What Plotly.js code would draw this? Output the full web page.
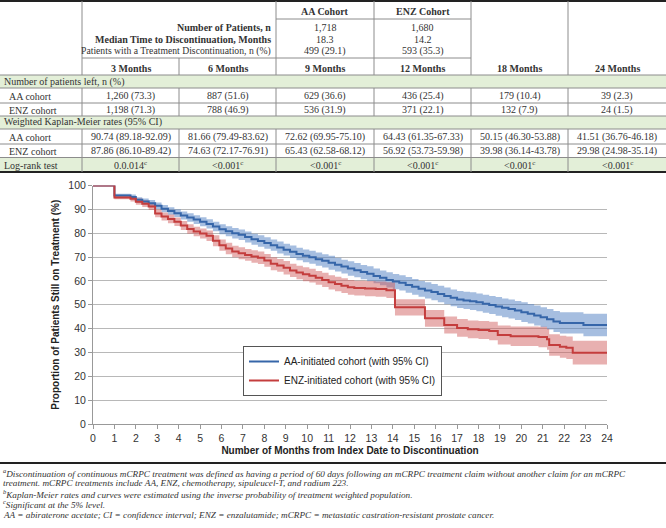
<!DOCTYPE html>
<html>
<head>
<meta charset="utf-8">
<script src="https://cdn.plot.ly/plotly-3.0.1.min.js"></script>
<style>html,body{margin:0;padding:0;background:#fff;}#chart{width:666px;height:528px;}</style>
</head>
<body>
<div id="chart"></div>
<script>
// ---------------- DATA ----------------
const monthHeaders = ['3 Months','6 Months','9 Months','12 Months','18 Months','24 Months'];
const cohortHeaders = ['AA Cohort','ENZ Cohort'];
const summaryLabels = ['Number of Patients, n','Median Time to Discontinuation, Months','Patients with a Treatment Discontinuation, n (%)'];
const aaSummary = ['1,718','18.3','499 (29.1)'];
const enzSummary = ['1,680','14.2','593 (35.3)'];
const rowLabels = ['AA cohort','ENZ cohort'];
const sectionLabels = ['Number of patients left, n (%)','Weighted Kaplan-Meier rates (95% CI)','Log-rank test'];
const aaLeft = ['1,260 (73.3)','887 (51.6)','629 (36.6)','436 (25.4)','179 (10.4)','39 (2.3)'];
const enzLeft = ['1,198 (71.3)','788 (46.9)','536 (31.9)','371 (22.1)','132 (7.9)','24 (1.5)'];
const aaKM = ['90.74 (89.18-92.09)','81.66 (79.49-83.62)','72.62 (69.95-75.10)','64.43 (61.35-67.33)','50.15 (46.30-53.88)','41.51 (36.76-46.18)'];
const enzKM = ['87.86 (86.10-89.42)','74.63 (72.17-76.91)','65.43 (62.58-68.12)','56.92 (53.73-59.98)','39.98 (36.14-43.78)','29.98 (24.98-35.14)'];
const logRank = ['0.0.014','&lt;0.001','&lt;0.001','&lt;0.001','&lt;0.001','&lt;0.001'];

const aaMonths = [0,1.0,1.75,2.0,2.3,2.6,2.9,3.2,3.5,3.8,4.1,4.4,4.7,5.0,5.3,5.6,5.9,6.2,6.5,6.8,7.1,7.4,7.7,8.0,8.3,8.6,8.9,9.2,9.5,9.8,10.1,10.4,10.7,11.0,11.3,11.6,11.9,12.2,12.5,12.8,13.1,13.4,13.7,14.0,14.3,14.6,14.9,15.2,15.5,15.8,16.1,16.4,16.7,17.0,17.3,17.6,17.9,18.2,18.5,18.8,19.1,19.4,19.7,20.0,20.3,20.6,20.9,21.2,21.5,21.8,22.9,24];
const aaValues = [100,95.8,95.2,94.0,93.3,92.6,91.5,90.3,89.3,88.4,87.4,86.6,85.7,84.8,83.9,82.8,81.7,80.8,80.0,79.3,78.4,77.5,76.7,75.9,75.0,74.0,73.1,72.2,71.3,70.5,69.9,69.1,68.4,67.6,66.8,66.0,65.2,64.5,63.7,63.0,62.1,61.3,60.4,59.7,59.2,58.3,57.5,56.7,56.0,55.3,54.5,53.7,52.9,52.2,51.8,51.5,51.0,50.4,49.9,49.3,48.7,48.2,47.6,46.9,46.2,45.5,44.8,43.9,43.0,42.4,41.5,41.5];
const aaLower = [100,95.1,94.2,92.9,92.1,91.3,90.1,88.8,87.7,86.8,85.7,84.8,83.9,82.9,82.0,80.8,79.6,78.7,77.8,77.1,76.1,75.2,74.3,73.5,72.6,71.5,70.6,69.6,68.7,67.8,67.2,66.3,65.6,64.7,63.9,63.1,62.2,61.5,60.7,59.9,59.0,58.2,57.2,56.5,56.0,55.0,54.2,53.4,52.6,51.9,51.0,50.2,49.4,48.6,48.2,47.8,47.3,46.6,46.1,45.4,44.8,44.2,43.6,42.8,42.1,41.3,40.6,39.6,38.6,37.9,36.8,36.8];
const aaUpper = [100,96.5,96.2,95.1,94.5,93.9,92.9,91.8,90.9,90.0,89.1,88.4,87.5,86.7,85.8,84.8,83.8,82.9,82.2,81.5,80.7,79.8,79.1,78.3,77.4,76.5,75.6,74.8,73.9,73.2,72.6,71.9,71.2,70.5,69.7,68.9,68.2,67.5,66.7,66.1,65.2,64.4,63.6,62.9,62.4,61.6,60.8,60.0,59.4,58.7,58.0,57.2,56.4,55.8,55.4,55.2,54.7,54.2,53.7,53.2,52.6,52.2,51.6,51.0,50.3,49.7,49.0,48.2,47.4,46.9,46.2,46.2];

const enzMonths = [0,1.0,1.75,2.0,2.3,2.6,2.9,3.2,3.5,3.8,4.1,4.4,4.7,5.0,5.3,5.6,5.9,6.2,6.5,6.8,7.1,7.4,7.7,8.0,8.3,8.6,8.9,9.2,9.5,9.8,10.1,10.4,10.7,11.0,11.3,11.6,11.9,12.2,12.7,13.2,13.7,14.1,15.5,16.4,17.0,17.5,18.0,18.5,18.9,19.5,20.8,21.2,21.3,21.8,22.1,22.4,24];
const enzValues = [100,95.0,94.4,93.2,92.4,91.2,88.3,87.0,86.0,84.8,83.2,81.8,80.7,79.9,78.9,76.8,75.0,73.6,72.3,71.6,70.9,70.2,69.7,68.6,67.2,66.5,65.5,64.4,63.5,62.8,62.2,61.3,60.4,59.4,58.7,58.0,57.3,57.0,56.8,56.6,56.1,48.9,44.3,41.5,40.3,39.7,39.4,39.0,37.3,36.8,36.5,35.5,33.1,32.4,32.0,29.9,29.9];
const enzLower = [100,94.2,93.3,91.9,91.0,89.7,86.7,85.3,84.2,83.0,81.3,79.8,78.7,77.8,76.7,74.5,72.6,71.2,69.9,69.1,68.4,67.6,67.1,65.9,64.5,63.8,62.7,61.6,60.7,59.9,59.3,58.4,57.4,56.4,55.7,54.9,54.2,53.9,53.6,53.4,52.8,45.5,40.8,37.9,36.6,36.0,35.6,35.1,33.3,32.7,32.2,31.1,28.6,27.8,27.3,24.9,24.9];
const enzUpper = [100,95.8,95.5,94.5,93.8,92.7,89.9,88.7,87.8,86.6,85.1,83.8,82.7,82.0,81.1,79.1,77.4,76.0,74.7,74.1,73.4,72.8,72.3,71.3,69.9,69.2,68.3,67.2,66.3,65.7,65.1,64.2,63.4,62.4,61.7,61.1,60.4,60.1,60.0,59.8,59.4,52.3,47.8,45.1,44.0,43.4,43.2,42.9,41.3,40.9,40.8,39.9,37.6,37.0,36.7,34.9,34.9];

const footnotes = [
  '<sup>a</sup>Discontinuation of continuous mCRPC treatment was defined as having a period of 60 days following an mCRPC treatment claim without another claim for an mCRPC',
  'treatment. mCRPC treatments include AA, ENZ, chemotherapy, sipuleucel-T, and radium 223.',
  '<sup>b</sup>Kaplan-Meier rates and curves were estimated using the inverse probability of treatment weighted population.',
  '<sup>c</sup>Significant at the 5% level.',
  'AA = abiraterone acetate; CI = confidence interval; ENZ = enzalutamide; mCRPC = metastatic castration-resistant prostate cancer.'
];

// ---------------- STYLE / LAYOUT HELPERS ----------------
const W = 666, H = 528;
const px = x => x / W;
const py = y => 1 - y / H;
const SERIF = 'Liberation Serif, Times New Roman, serif';
const SANS = 'Liberation Sans, Arial, sans-serif';
const TXT = '#333333';
const GRID = '#8c8c8c';
const GREEN = '#e3efd8';
const BLUE = '#3666a9', RED = '#c43d3d';
const BLUE_BAND = 'rgba(84,130,196,0.52)', RED_BAND = 'rgba(207,90,90,0.48)';

const colX = [0, 82, 179, 276, 374, 471, 568, 666];
const colC = i => (colX[i + 1] + colX[i + 2]) / 2;

const shapes = [];
const annotations = [];
function rect(x0, y0, x1, y1, color) {
  shapes.push({type:'rect', xref:'paper', yref:'paper', x0:px(x0), x1:px(x1), y0:py(y1), y1:py(y0), fillcolor:color, line:{width:0}, layer:'below'});
}
function hline(y, x0, x1, w, c) {
  shapes.push({type:'line', xref:'paper', yref:'paper', x0:px(x0), x1:px(x1), y0:py(y), y1:py(y), line:{color:c || GRID, width:w || 1}});
}
function vline(x, y0, y1, w, c) {
  shapes.push({type:'line', xref:'paper', yref:'paper', x0:px(x), x1:px(x), y0:py(y0), y1:py(y1), line:{color:c || GRID, width:w || 1}});
}
function txt(x, y, text, o) {
  o = o || {};
  annotations.push({xref:'paper', yref:'paper', x:px(x), y:py(y), text:text, showarrow:false,
    xanchor:o.anchor || 'center', yanchor:'middle', align:o.align || 'center',
    font:{family:o.family || SERIF, size:o.size || 10, color:o.color || TXT, weight:o.weight || 'normal'}});
}

// ---- table ----
rect(0, 75, W, 88, GREEN);
rect(0, 116, W, 129, GREEN);
rect(0, 157.5, W, 172, GREEN);

hline(1, 0, W, 2.2, '#222');
hline(19, 276, 471);
hline(58, 82, 471);
[75, 88, 103, 116, 129, 144, 157.5].forEach(y => hline(y, 0, W));
hline(172, 0, W, 2.2, '#222');
vline(82, 1, 75); vline(179, 58, 75);
[276, 374, 471, 568].forEach(x => vline(x, 1, 75));
[[88,116],[129,172]].forEach(r => { for (let i = 1; i < 7; i++) vline(colX[i], r[0], r[1]); });

// header texts
txt(colC(2), 11.5, cohortHeaders[0], {weight:'bold'});
txt(colC(3), 11.5, cohortHeaders[1], {weight:'bold'});
const sumY = [28, 39.5, 51];
summaryLabels.forEach((s, i) => txt(273, sumY[i], s, {anchor:'right', weight: i < 2 ? 'bold' : 'normal', size: i < 2 ? 10 : 9.7}));
aaSummary.forEach((s, i) => txt(colC(2), sumY[i], s));
enzSummary.forEach((s, i) => txt(colC(3), sumY[i], s));
monthHeaders.forEach((m, i) => txt(colC(i), 68, m, {weight:'bold'}));

// body texts
txt(2, 82, sectionLabels[0], {anchor:'left'});
txt(2, 122.5, sectionLabels[1], {anchor:'left'});
txt(2, 165, sectionLabels[2], {anchor:'left'});
txt(7, 96, rowLabels[0], {anchor:'left'});
txt(7, 110, rowLabels[1], {anchor:'left'});
txt(7, 137, rowLabels[0], {anchor:'left'});
txt(7, 151, rowLabels[1], {anchor:'left'});
for (let i = 0; i < 6; i++) {
  txt(colC(i), 96, aaLeft[i]);
  txt(colC(i), 110, enzLeft[i]);
  txt(colC(i), 137, aaKM[i]);
  txt(colC(i), 151, enzKM[i]);
  txt(colC(i), 165, logRank[i] + '<sup>c</sup>');
}

// footnotes
hline(463, 0, W, 2, '#222');
const fnY = [472.5, 483, 493.5, 504, 514.5];
footnotes.forEach((f, i) => txt(1, fnY[i], '<i>' + f + '</i>', {anchor:'left', align:'left', size:9.2}));

// ---------------- TRACES ----------------
function band(x, lo, hi, color) {
  return [
    {x:x, y:lo, type:'scatter', mode:'lines', line:{width:0, shape:'hv'}, hoverinfo:'skip', showlegend:false},
    {x:x, y:hi, type:'scatter', mode:'lines', line:{width:0, shape:'hv'}, fill:'tonexty', fillcolor:color, hoverinfo:'skip', showlegend:false}
  ];
}
const traces = [
  ...band(aaMonths, aaLower, aaUpper, BLUE_BAND),
  ...band(enzMonths, enzLower, enzUpper, RED_BAND),
  {x:aaMonths, y:aaValues, type:'scatter', mode:'lines', name:'AA-initiated cohort (with 95% CI)', line:{color:BLUE, width:2, shape:'hv'}},
  {x:enzMonths, y:enzValues, type:'scatter', mode:'lines', name:'ENZ-initiated cohort (with 95% CI)', line:{color:RED, width:2, shape:'hv'}}
];

const layout = {
  width: W, height: H,
  margin:{l:0, r:0, t:0, b:0},
  paper_bgcolor:'#fff', plot_bgcolor:'#fff',
  showlegend:true,
  legend:{x:px(243), y:py(346), xanchor:'left', yanchor:'top', bgcolor:'#fff', bordercolor:'#555', borderwidth:1,
    font:{family:SANS, size:10, color:'#222'}, itemwidth:30, tracegroupgap:0, traceorder:'normal'},
  xaxis:{domain:[px(93), px(607)], range:[0, 24], tickmode:'linear', tick0:0, dtick:1,
    showgrid:false, zeroline:false, showline:true, linecolor:'#999', linewidth:1,
    ticks:'outside', ticklen:4, tickcolor:'#999',
    tickfont:{family:SANS, size:10.5, color:'#333'},
    title:{text:'Number of Months from Index Date to Discontinuation', font:{family:SANS, size:10, color:'#222', weight:'bold'}, standoff:4},
    fixedrange:true},
  yaxis:{domain:[py(424), py(185.5)], range:[0, 100], tickmode:'linear', tick0:0, dtick:10,
    showgrid:true, gridcolor:'#b8b8b8', gridwidth:1, zeroline:false, showline:true, linecolor:'#999', linewidth:1,
    ticks:'outside', ticklen:4, tickcolor:'#999',
    tickfont:{family:SANS, size:10.5, color:'#333'},
    title:{text:'Proportion of Patients Still on Treatment (%)', font:{family:SANS, size:10, color:'#222', weight:'bold'}, standoff:6},
    fixedrange:true},
  shapes: shapes,
  annotations: annotations
};

Plotly.newPlot('chart', traces, layout, {displayModeBar:false, staticPlot:true});
</script>
</body>
</html>
